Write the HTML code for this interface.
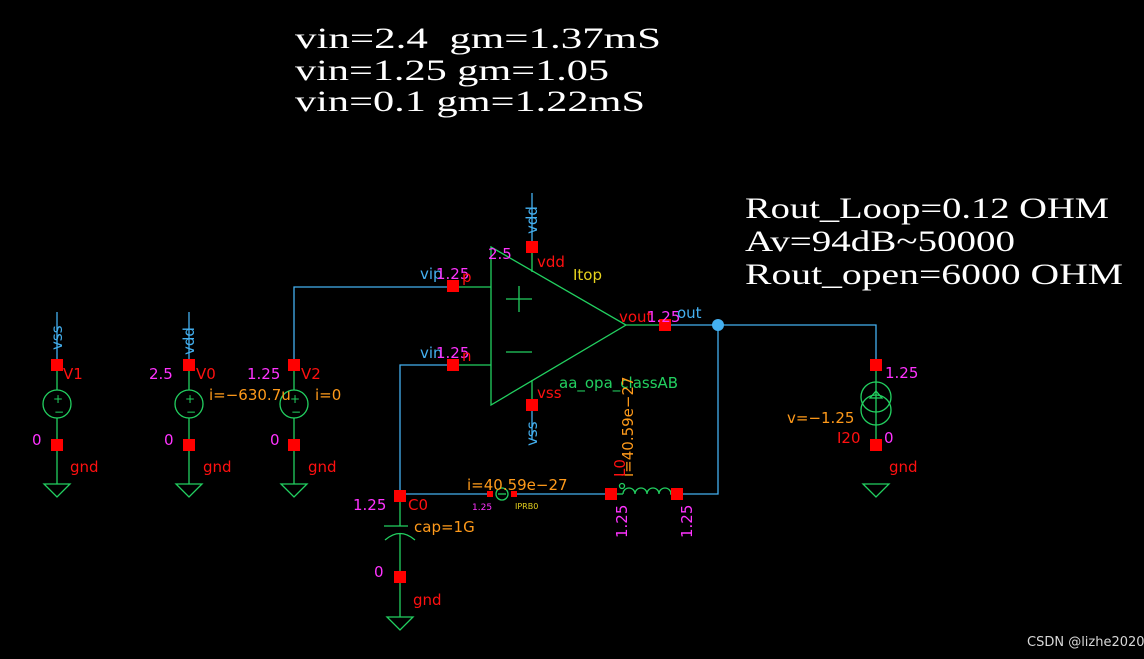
<!DOCTYPE html>
<html><head><meta charset="utf-8"><style>
html,body{margin:0;padding:0;background:#000;}
svg{display:block}
text{font-family:"DejaVu Sans","Liberation Sans",sans-serif;white-space:pre}
.s{font-family:"Liberation Serif","DejaVu Serif",serif;fill:#fff;font-size:30px}
.r{fill:#ff1010;font-size:15px}
.m{fill:#ff33ff;font-size:15px}
.o{fill:#ff9a1a;font-size:15px}
.b{fill:#44b0f0;font-size:15px}
.g{fill:#22d060;font-size:15px}
.y{fill:#e6d21e;font-size:15px}
</style></head><body>
<svg width="1144" height="659" viewBox="0 0 1144 659" xmlns="http://www.w3.org/2000/svg">
<rect width="1144" height="659" fill="#000"/>
<text class="s" x="295" y="48" textLength="366" lengthAdjust="spacingAndGlyphs">vin=2.4&#160;&#160;gm=1.37mS</text>
<text class="s" x="295" y="80" textLength="314" lengthAdjust="spacingAndGlyphs">vin=1.25 gm=1.05</text>
<text class="s" x="295" y="111" textLength="350" lengthAdjust="spacingAndGlyphs">vin=0.1 gm=1.22mS</text>
<text class="s" x="745" y="218" textLength="364" lengthAdjust="spacingAndGlyphs">Rout_Loop=0.12 OHM</text>
<text class="s" x="745" y="251" textLength="270" lengthAdjust="spacingAndGlyphs">Av=94dB~50000</text>
<text class="s" x="745" y="284" textLength="378" lengthAdjust="spacingAndGlyphs">Rout_open=6000 OHM</text>

<g stroke-width="1.3" fill="none">
<g stroke="#44b0f0">
<line x1="57" y1="312" x2="57" y2="365"/>
<line x1="189" y1="312" x2="189" y2="365"/>
<polyline points="294,365 294,287 453,287"/>
<line x1="532" y1="193" x2="532" y2="247"/>
<line x1="532" y1="402" x2="532" y2="440"/>
<polyline points="453,365 400,365 400,496"/>
<polyline points="665,325 876,325 876,365"/>
<polyline points="718,325 718,494 677,494"/>
<line x1="400" y1="494" x2="490" y2="494"/>
<line x1="514" y1="494" x2="611" y2="494"/>
</g>
<g stroke="#22d060">
<line x1="57" y1="365" x2="57" y2="484"/><circle cx="57" cy="404" r="14" fill="#000"/>
<line x1="189" y1="365" x2="189" y2="484"/><circle cx="189" cy="404" r="14" fill="#000"/>
<line x1="294" y1="365" x2="294" y2="484"/><circle cx="294" cy="404" r="14" fill="#000"/>
<polygon points="44,484 70,484 57,497"/>
<polygon points="176,484 202,484 189,497"/>
<polygon points="281,484 307,484 294,497"/>
<polygon points="863,484 889,484 876,497"/>
<polygon points="387,617 413,617 400,630"/>
<polygon points="491,247 626,325 491,405"/>
<line x1="453" y1="287" x2="491" y2="287"/>
<line x1="453" y1="365" x2="491" y2="365"/>
<line x1="626" y1="325" x2="665" y2="325"/>
<line x1="532" y1="247" x2="532" y2="272"/>
<line x1="532" y1="380" x2="532" y2="402"/>
<line x1="506" y1="299" x2="532" y2="299"/><line x1="519" y1="286" x2="519" y2="312"/>
<line x1="506" y1="352" x2="532" y2="352"/>
<line x1="876" y1="365" x2="876" y2="445"/>
<circle cx="876" cy="397" r="15"/><circle cx="876" cy="410" r="15"/>
<polygon points="870,398 882,398 876,391"/>
<line x1="611" y1="494" x2="623" y2="494"/><line x1="670" y1="494" x2="677" y2="494"/>
<path d="M623,494 a6,6 0 0 1 12,0 a6,6 0 0 1 12,0 a6,6 0 0 1 12,0 a6,6 0 0 1 12,0"/>
<circle cx="622" cy="486" r="2.5"/>
<circle cx="502" cy="494" r="6"/><line x1="498" y1="494" x2="506" y2="494"/>
<line x1="400" y1="496" x2="400" y2="526"/>
<line x1="384" y1="526" x2="408" y2="526"/>
<path d="M385,540 Q400,527 415,540"/>
<line x1="400" y1="534" x2="400" y2="617"/>
</g>
</g>
<g fill="#22d060" font-size="12" font-family="DejaVu Sans">
<text x="53" y="403">+</text><text x="54" y="416">−</text>
<text x="185" y="403">+</text><text x="186" y="416">−</text>
<text x="290" y="403">+</text><text x="291" y="416">−</text>
</g>
<g fill="#ff0000">
<rect x="51" y="359" width="12" height="12"/><rect x="51" y="439" width="12" height="12"/>
<rect x="183" y="359" width="12" height="12"/><rect x="183" y="439" width="12" height="12"/>
<rect x="288" y="359" width="12" height="12"/><rect x="288" y="439" width="12" height="12"/>
<rect x="447" y="280" width="12" height="12"/><rect x="447" y="359" width="12" height="12"/>
<rect x="526" y="241" width="12" height="12"/><rect x="526" y="399" width="12" height="12"/>
<rect x="659" y="319" width="12" height="12"/>
<rect x="870" y="359" width="12" height="12"/><rect x="870" y="439" width="12" height="12"/>
<rect x="394" y="490" width="12" height="12"/><rect x="394" y="571" width="12" height="12"/>
<rect x="605" y="488" width="12" height="12"/><rect x="671" y="488" width="12" height="12"/>
<rect x="487" y="491" width="6" height="6"/><rect x="511" y="491" width="6" height="6"/>
</g>
<circle cx="718" cy="325" r="6" fill="#44b0f0"/>
<text class="b" transform="translate(62,350) rotate(-90)">vss</text>
<text class="b" transform="translate(194,355) rotate(-90)">vdd</text>
<text class="b" transform="translate(537,234) rotate(-90)">vdd</text>
<text class="b" transform="translate(537,446) rotate(-90)">vss</text>
<text class="r" x="63" y="379">V1</text>
<text class="r" x="196" y="379">V0</text>
<text class="r" x="301" y="379">V2</text>
<text class="m" x="149" y="379">2.5</text>
<text class="m" x="247" y="379">1.25</text>
<text class="m" x="32" y="445">0</text><text class="m" x="164" y="445">0</text><text class="m" x="270" y="445">0</text>
<text class="r" x="70" y="472">gnd</text><text class="r" x="203" y="472">gnd</text><text class="r" x="308" y="472">gnd</text>
<text class="r" x="889" y="472">gnd</text><text class="r" x="413" y="605">gnd</text>
<text class="o" x="209" y="400">i=−630.7u</text>
<text class="o" x="315" y="400">i=0</text>
<text class="b" x="420" y="279">vip</text><text class="m" x="436" y="279">1.25</text><text class="r" x="462" y="282">p</text>
<text class="b" x="420" y="358">vin</text><text class="m" x="436" y="358">1.25</text><text class="r" x="462" y="361">n</text>
<text class="m" x="488" y="259">2.5</text>
<text class="r" x="537" y="267">vdd</text>
<text class="y" x="573" y="280">Itop</text>
<text class="r" x="619" y="322">vout</text><text class="m" x="647" y="322">1.25</text><text class="b" x="677" y="318">out</text>
<text class="g" x="559" y="388">aa_opa_classAB</text>
<text class="r" x="537" y="398">vss</text>
<text class="o" transform="translate(633,477) rotate(-90)">i=40.59e−27</text>
<text class="r" transform="translate(625,477) rotate(-90)">L0</text>
<text class="m" transform="translate(627,538) rotate(-90)">1.25</text>
<text class="m" transform="translate(692,538) rotate(-90)">1.25</text>
<text class="o" x="467" y="490">i=40.59e−27</text>
<text class="m" x="472" y="510" style="font-size:9px">1.25</text>
<text class="y" x="515" y="509" style="font-size:8px">IPRB0</text>
<text class="m" x="353" y="510">1.25</text>
<text class="r" x="408" y="510">C0</text>
<text class="o" x="414" y="532">cap=1G</text>
<text class="m" x="374" y="577">0</text>
<text class="m" x="885" y="378">1.25</text>
<text class="o" x="787" y="423">v=−1.25</text>
<text class="r" x="837" y="443">I20</text>
<text class="m" x="884" y="443">0</text>
<text x="1027" y="646" fill="#d8d8d8" font-size="13" font-family="Liberation Sans">CSDN @lizhe2020</text>
</svg>
</body></html>
